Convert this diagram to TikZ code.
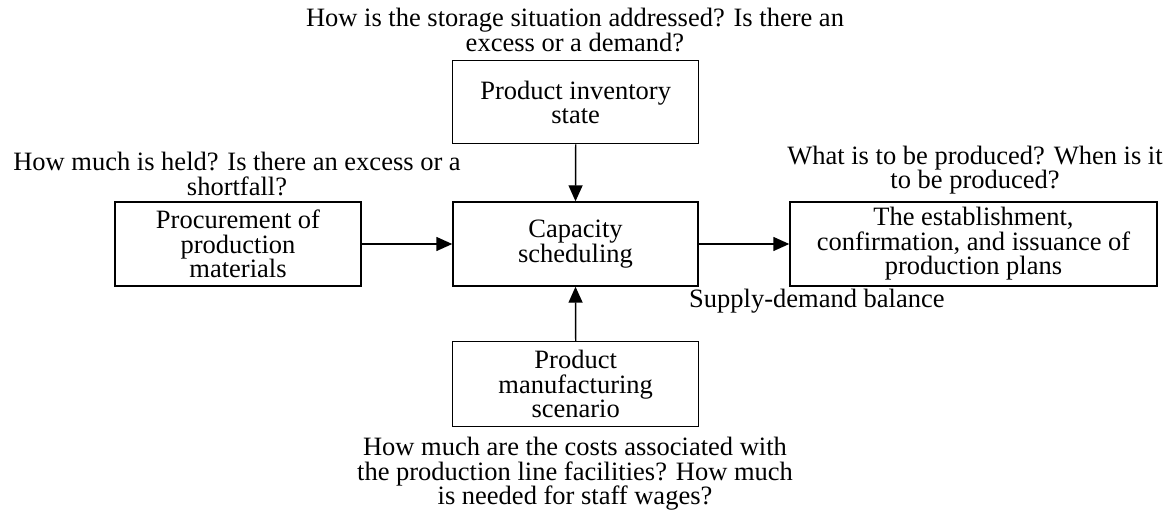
\documentclass[tikz,border=0pt]{standalone}
\usepackage{fontspec}
\setmainfont{Liberation Serif}
\usetikzlibrary{arrows.meta}
\begin{document}
\begin{tikzpicture}[x=1pt,y=-1pt,
  box/.style={draw,line width=1.4pt,align=center,inner sep=0pt},
  lbl/.style={align=center,inner sep=0pt},
  arr/.style={line width=1.4pt,-{Triangle[length=16pt,width=14pt]}},
  every node/.append style={font=\fontsize{26.5}{24.5}\selectfont}]
\useasboundingbox (0,0) rectangle (1172,510);
\node[box,minimum width=246pt,minimum height=83pt] (inv) at (575.7,102.3) {Product inventory\\state};
\node[box,minimum width=245pt,minimum height=84pt] (cap) at (575.5,244) {Capacity\\scheduling};
\node[box,minimum width=246pt,minimum height=84pt] (proc) at (238,244) {Procurement of\\production\\materials};
\node[box,minimum width=367pt,minimum height=84pt] (plan) at (973.5,244) {The establishment,\\confirmation, and issuance of\\production plans};
\node[box,minimum width=246pt,minimum height=85pt] (manu) at (575.7,384) {Product\\manufacturing\\scenario};
\node[lbl] (tl) at (575,30) {How is the storage situation addressed? Is there an\\excess or a demand?};
\node[lbl] (ll) at (237,174) {How much is held? Is there an excess or a\\shortfall?};
\node[lbl] (rl) at (975,170) {What is to be produced? When is it\\to be produced?};
\node[lbl,anchor=base west] (sd) at (689,308) {Supply-demand balance};
\node[lbl] (bl) at (575,474) {How much are the costs associated with\\the production line facilities? How much\\is needed for staff wages?};
\draw[arr] (inv.south) -- (cap.north);
\draw[arr] (manu.north) -- (cap.south);
\draw[arr] (proc.east) -- (cap.west);
\draw[arr] (cap.east) -- (plan.west);
\end{tikzpicture}
\end{document}
